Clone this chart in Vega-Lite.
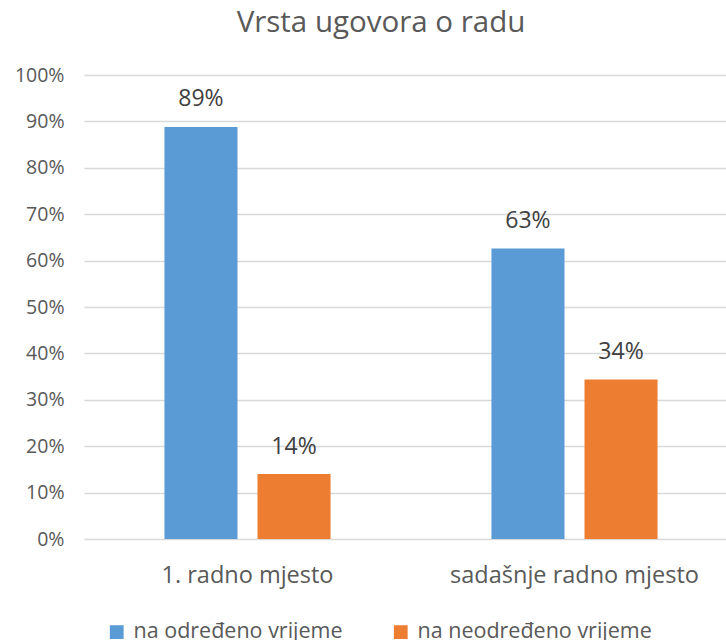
{
  "$schema": "https://vega.github.io/schema/vega-lite/v6.json",
  "autosize": "none",
  "width": 642,
  "height": 464,
  "padding": {"left": 84, "top": 75, "right": 0, "bottom": 101},
  "background": "white",
  "title": {
    "text": "Vrsta ugovora o radu",
    "font": "Open Sans",
    "fontSize": 29.5,
    "fontWeight": "normal",
    "color": "#595959",
    "anchor": "middle",
    "baseline": "alphabetic",
    "dx": -24,
    "offset": 4
  },
  "config": {
    "view": {"stroke": null},
    "font": "Open Sans"
  },
  "data": {
    "values": [
      {"mjesto": "1. radno mjesto", "ugovor": "na određeno vrijeme", "udio": 0.888},
      {"mjesto": "1. radno mjesto", "ugovor": "na neodređeno vrijeme", "udio": 0.14},
      {"mjesto": "sadašnje radno mjesto", "ugovor": "na određeno vrijeme", "udio": 0.626},
      {"mjesto": "sadašnje radno mjesto", "ugovor": "na neodređeno vrijeme", "udio": 0.344}
    ]
  },
  "encoding": {
    "x": {
      "field": "mjesto",
      "type": "nominal",
      "sort": ["1. radno mjesto", "sadašnje radno mjesto"],
      "scale": {"range": [0, 654], "paddingInner": 0.492, "paddingOuter": 0.246},
      "axis": {
        "title": null,
        "labelAngle": 0,
        "domain": false,
        "ticks": false,
        "labelFont": "Open Sans",
        "labelFontSize": 23.5,
        "labelColor": "#595959",
        "labelPadding": 24,
        "labelLimit": 500
      }
    },
    "xOffset": {
      "field": "ugovor",
      "type": "nominal",
      "sort": ["na određeno vrijeme", "na neodređeno vrijeme"],
      "scale": {"paddingInner": 0.215, "paddingOuter": 0}
    },
    "y": {
      "field": "udio",
      "type": "quantitative",
      "scale": {"domain": [0, 1]},
      "axis": {
        "title": null,
        "format": ".0%",
        "values": [0, 0.1, 0.2, 0.3, 0.4, 0.5, 0.6, 0.7, 0.8, 0.9, 1],
        "labelOverlap": false,
        "domain": false,
        "ticks": false,
        "grid": true,
        "gridColor": "#D9D9D9",
        "gridWidth": 1.3,
        "labelFont": "Open Sans",
        "labelFontSize": 19.5,
        "labelColor": "#595959",
        "labelPadding": 20
      }
    }
  },
  "layer": [
    {
      "mark": {"type": "bar"},
      "encoding": {
        "color": {
          "field": "ugovor",
          "type": "nominal",
          "sort": ["na određeno vrijeme", "na neodređeno vrijeme"],
          "scale": {"range": ["#5B9BD5", "#ED7D31"]},
          "legend": {
            "title": null,
            "orient": "none",
            "direction": "horizontal",
            "legendX": 22,
            "legendY": 546,
            "symbolType": "square",
            "symbolSize": 190,
            "symbolStrokeWidth": 0,
            "symbolOpacity": 1,
            "labelFont": "Open Sans",
            "labelFontSize": 21.5,
            "labelColor": "#595959",
            "labelOffset": 6,
            "columnPadding": 47,
            "labelLimit": 400
          }
        }
      }
    },
    {
      "mark": {
        "type": "text",
        "baseline": "alphabetic",
        "dy": -20.5,
        "font": "Open Sans",
        "fontSize": 23,
        "color": "#404040"
      },
      "encoding": {
        "text": {"field": "udio", "type": "quantitative", "format": ".0%"}
      }
    }
  ]
}
